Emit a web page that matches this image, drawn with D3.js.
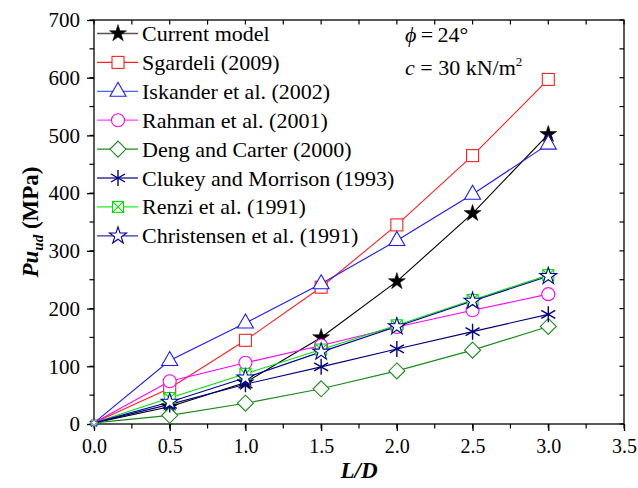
<!DOCTYPE html>
<html>
<head>
<meta charset="utf-8">
<script src="https://cdn.jsdelivr.net/npm/d3@7"></script>
<style>
  html, body { margin: 0; padding: 0; background: #fff; }
  text, tspan { font-family: "Liberation Serif", "Times New Roman", Tinos !important; }
</style>
</head>
<body>
<svg id="chart" width="638" height="488"></svg>
<script>
// L/D ratios
const ratios = [0, 0.5, 1.0, 1.5, 2.0, 2.5, 3.0];

// Ultimate uplift capacity Pu_ud (MPa) for each model
const currentModel   = [2, 30, 72, 150, 247, 365, 502];
const sgardeli       = [2, 62, 145, 237, 345, 465, 597];
const iskander       = [2, 110, 175, 243, 318, 398, 485];
const rahman         = [2, 74, 106, 136, 168, 197, 225];
const dengCarter     = [2, 15, 36, 61, 92, 128, 169];
const clukeyMorrison = [2, 34, 69, 99, 130, 160, 190];
const renzi          = [2, 45, 87, 129, 171, 215, 258];
const christensen    = [2, 38, 80, 125, 169, 213, 256];

const seriesNames = [
  "Current model", "Sgardeli (2009)", "Iskander et al. (2002)", "Rahman et al. (2001)",
  "Deng and Carter (2000)", "Clukey and Morrison (1993)", "Renzi et al. (1991)",
  "Christensen et al. (1991)"
];
const seriesValues = [currentModel, sgardeli, iskander, rahman, dengCarter, clukeyMorrison, renzi, christensen];
const seriesColors = ["#000000", "#ff2020", "#1a1aff", "#ff00ff", "#1a8a1a", "#000080", "#00e000", "#000099"];
const legendLineColors = ["#555555", "#ff2020", "#4466ff", "#ff44ff", "#1a8a1a", "#333399", "#22ee22", "#333399"];
const seriesMarkers = ["starFilled", "square", "triangle", "circle", "diamond", "asterisk", "squareX", "starOpen"];

const xTicks = [0, 0.5, 1.0, 1.5, 2.0, 2.5, 3.0, 3.5];
const yTicks = [0, 100, 200, 300, 400, 500, 600, 700];

const SERIF = '"Liberation Serif"';
const svg = d3.select("#chart");
const m = { left: 94, right: 624, top: 20, bottom: 424 };

const x = d3.scaleLinear().domain([0, 3.5]).range([m.left, m.right]);
const y = d3.scaleLinear().domain([0, 700]).range([m.bottom, m.top]);

// Frame
svg.append("rect")
  .attr("x", m.left).attr("y", m.top)
  .attr("width", m.right - m.left).attr("height", m.bottom - m.top)
  .attr("fill", "none").attr("stroke", "#000").attr("stroke-width", 1.3);

// Bottom axis: outward ticks, minor every 0.25
const minorX = d3.range(0, 3.5001, 0.25);
const minorY = d3.range(0, 700.001, 50);
const gx = svg.append("g").attr("transform", `translate(0,${m.bottom})`)
  .call(d3.axisBottom(x).tickValues(xTicks).tickFormat(d3.format(".1f")).tickSize(7).tickPadding(8));
gx.attr("font-family", null).style("font-family", SERIF);
gx.select(".domain").remove();
gx.selectAll("text").attr("font-size", 20).attr("fill", "#000").style("font-family", SERIF);
gx.selectAll("line").attr("stroke-width", 1.3);
svg.append("g").selectAll("line").data(minorX).join("line")
  .attr("x1", d => x(d)).attr("x2", d => x(d))
  .attr("y1", m.bottom).attr("y2", m.bottom + 4.5)
  .attr("stroke", "#000").attr("stroke-width", 1.2);

// Left axis: outward ticks
const gy = svg.append("g").attr("transform", `translate(${m.left},0)`)
  .call(d3.axisLeft(y).tickValues(yTicks).tickSize(7).tickPadding(7));
gy.attr("font-family", null).style("font-family", SERIF);
gy.select(".domain").remove();
gy.selectAll("text").attr("font-size", 21).attr("fill", "#000").style("font-family", SERIF);
gy.selectAll("line").attr("stroke-width", 1.3);
svg.append("g").selectAll("line").data(minorY).join("line")
  .attr("x1", m.left - 4.5).attr("x2", m.left)
  .attr("y1", d => y(d)).attr("y2", d => y(d))
  .attr("stroke", "#000").attr("stroke-width", 1.2);

// Top and right: inward ticks
svg.append("g").selectAll("line").data(minorX).join("line")
  .attr("x1", d => x(d)).attr("x2", d => x(d))
  .attr("y1", m.top).attr("y2", m.top + 4.5)
  .attr("stroke", "#000").attr("stroke-width", 1.2);
svg.append("g").selectAll("line").data(minorY).join("line")
  .attr("x1", m.right - 4.5).attr("x2", m.right)
  .attr("y1", d => y(d)).attr("y2", d => y(d))
  .attr("stroke", "#000").attr("stroke-width", 1.2);

// Axis titles
svg.append("text")
  .style("font-family", SERIF)
  .attr("x", x(1.75)).attr("y", 478)
  .attr("text-anchor", "middle")
  .attr("font-size", 23).attr("font-weight", "bold").attr("font-style", "italic")
  .text("L/D");

const yt = svg.append("text")
  .style("font-family", SERIF)
  .attr("transform", `translate(38,${(m.top + m.bottom) / 2}) rotate(-90)`)
  .attr("text-anchor", "middle")
  .attr("font-size", 23).attr("font-weight", "bold");
yt.append("tspan").attr("font-style", "italic").text("Pu");
yt.append("tspan").attr("font-style", "italic").attr("font-size", 15).attr("dy", 5).text("ud");
yt.append("tspan").attr("dy", -5).text(" (MPa)");

// Marker drawing
function drawMarker(g, type, color) {
  const sw = 1.1;
  switch (type) {
    case "starFilled":
      g.append("path").attr("d", d3.symbol(d3.symbolStar, 90)()).attr("fill", color).attr("stroke", color).attr("stroke-width", 0.5);
      break;
    case "starOpen":
      g.append("path").attr("d", d3.symbol(d3.symbolStar, 90)()).attr("fill", "#fff").attr("stroke", color).attr("stroke-width", sw);
      break;
    case "square":
      g.append("rect").attr("x", -6).attr("y", -6).attr("width", 12).attr("height", 12)
        .attr("fill", "#fff").attr("stroke", color).attr("stroke-width", sw);
      break;
    case "squareX":
      g.append("rect").attr("x", -5.5).attr("y", -5.5).attr("width", 11).attr("height", 11)
        .attr("fill", "#fff").attr("stroke", color).attr("stroke-width", sw);
      g.append("path").attr("d", "M-5.5,-5.5L5.5,5.5M-5.5,5.5L5.5,-5.5").attr("stroke", color).attr("stroke-width", sw);
      break;
    case "triangle":
      g.append("path").attr("d", "M0,-9L8,5L-8,5Z").attr("fill", "#fff").attr("stroke", color).attr("stroke-width", sw);
      break;
    case "circle":
      g.append("circle").attr("r", 6.5).attr("fill", "#fff").attr("stroke", color).attr("stroke-width", sw);
      break;
    case "diamond":
      g.append("path").attr("d", "M0,-8L8,0L0,8L-8,0Z").attr("fill", "#fff").attr("stroke", color).attr("stroke-width", sw);
      break;
    case "asterisk":
      g.append("path").attr("d", "M0,-8L0,8M-7,-4L7,4M-7,4L7,-4").attr("stroke", color).attr("stroke-width", 1.4).attr("fill", "none");
      break;
  }
}

// Series lines and markers
const line = d3.line().x((d, i) => x(ratios[i])).y(d => y(d));
seriesValues.forEach((vals, k) => {
  svg.append("path").datum(vals)
    .attr("d", line)
    .attr("fill", "none").attr("stroke", seriesColors[k]).attr("stroke-width", 1.1);
});
seriesValues.forEach((vals, k) => {
  vals.forEach((v, i) => {
    const g = svg.append("g").attr("transform", `translate(${x(ratios[i])},${y(v)})`);
    if (i === 0) g.attr("transform", `translate(${x(ratios[i])},${y(v)}) scale(0.5)`);
    drawMarker(g, seriesMarkers[k], seriesColors[k]);
  });
});

// Legend
const legend = svg.append("g");
seriesNames.forEach((name, k) => {
  const yy = 33.5 + k * 28.9;
  legend.append("line").attr("x1", 97).attr("x2", 138).attr("y1", yy).attr("y2", yy)
    .attr("stroke", legendLineColors[k]).attr("stroke-width", 1.3);
  drawMarker(legend.append("g").attr("transform", `translate(118,${yy})`), seriesMarkers[k], seriesColors[k]);
  legend.append("text").style("font-family", SERIF).attr("x", 142).attr("y", yy + 7.5)
    .attr("font-size", 22).attr("fill", "#000").text(name);
});

// Soil parameters
const p1 = svg.append("text").style("font-family", SERIF).attr("x", 405).attr("y", 42).attr("font-size", 22);
p1.append("tspan").attr("font-style", "italic").text("\u03D5");
p1.append("tspan").text("\u2009=\u200924\u00B0");
const p2 = svg.append("text").style("font-family", SERIF).attr("x", 405).attr("y", 75).attr("font-size", 22);
p2.append("tspan").attr("font-style", "italic").text("c");
p2.append("tspan").text(" = 30 kN/m");
p2.append("tspan").attr("font-size", 13).attr("dy", -9).text("2");
</script>
</body>
</html>
